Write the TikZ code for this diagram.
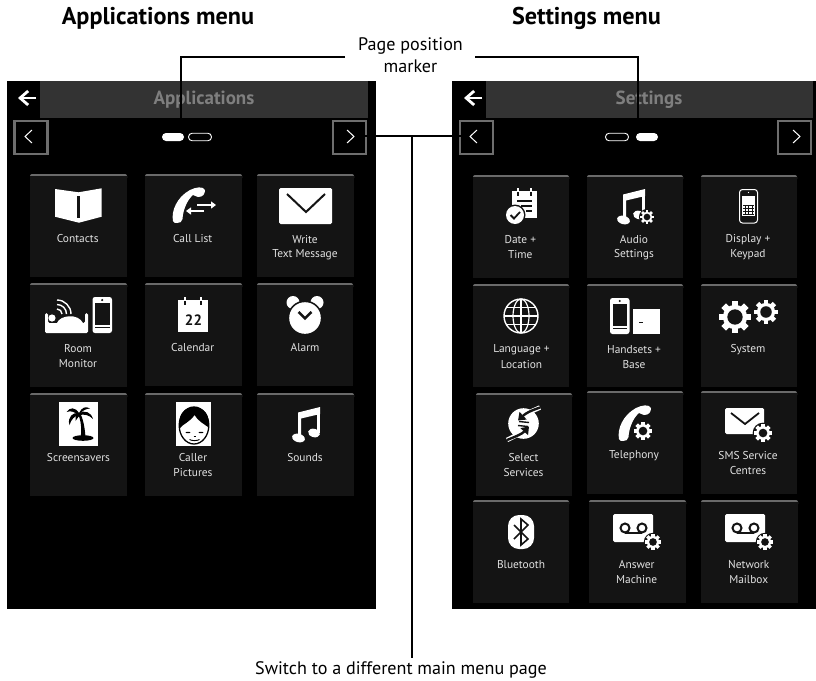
\documentclass[tikz,border=0pt]{standalone}
\usepackage{fontspec}
\setmainfont{PT Sans}
\usetikzlibrary{arrows.meta}
\definecolor{tilebg}{HTML}{141414}
\definecolor{tileedge}{HTML}{6A6A6A}
\definecolor{barbg}{HTML}{333333}
\definecolor{btn}{HTML}{6E6E6E}
\definecolor{tlt}{HTML}{7F7F7F}
\definecolor{lbl}{HTML}{E2E2E2}
\tikzset{
  x=1pt,y=-1pt,
  tiletext/.style={text=lbl,font=\fontsize{11.4}{13}\selectfont,inner sep=0pt,anchor=center,yshift=-.8pt},
  headtitle/.style={text=tlt,font=\fontsize{19}{20}\selectfont\bfseries,inner sep=0pt},
  heading/.style={text=black,font=\fontsize{24.2}{26}\selectfont\bfseries,inner sep=0pt},
  callout/.style={text=black,font=\fontsize{18.1}{22}\selectfont,inner sep=0pt,align=center},
  leader/.style={draw=black,line width=2pt},
  navbtn/.style={draw=btn,line width=2.6pt,fill=black,minimum width=33pt,minimum height=33pt,inner sep=0pt},
  chev/.style={draw=white,line width=1pt},
  ic/.style={fill=white,draw=none},
  cut/.style={fill=tilebg,draw=none},
  cutline/.style={draw=tilebg},
}
\newcommand{\tile}[4]{%
  \fill[tileedge,rounded corners=2pt] (#1,#2) rectangle (#3,{#2+6});
  \fill[tilebg] (#1,{#2+1.6}) rectangle (#3,#4);}
\newcommand{\tlab}[4]{\node[tiletext] (#1) at (#2,#3) {#4};}
\newcommand{\gearicon}[3]{%
  \fill[tilebg] (#1,#2) circle ({#3*1.15});
  \foreach \a in {0,45,...,315}{%
    \fill[white,shift={(#1,#2)},rotate=\a] (-{#3*.2},{#3*.6}) rectangle ({#3*.2},{#3});}
  \fill[white] (#1,#2) circle ({#3*.76});
  \fill[tilebg] (#1,#2) circle ({#3*.48});}
% handset: local box 34 x 36
\newcommand{\handset}[2]{%
  \fill[white,shift={(#1,#2)}] (2,34) .. controls (0,24) and (6,10) .. (19,3)
    .. controls (25,0) and (32,-1) .. (34,3) .. controls (34,7) and (32,10) .. (27,10)
    .. controls (25,10) and (24,8) .. (22,8) .. controls (17,12) and (12,22) .. (11.5,32)
    .. controls (11,35) and (9,36) .. (6,36) .. controls (4,36) and (3,36) .. (2,34) -- cycle;}
% note: local box 28 x 35
\newcommand{\noteicon}[2]{%
  \begin{scope}[shift={(#1,#2)}]
    \fill[white] (6,5.5) -- (28,0) -- (28,7) -- (9,11.5) -- (9,31) -- (6,31) -- cycle;
    \fill[white] (25,1) rectangle (28,26);
    \fill[white,rotate around={-15:(6.5,31)}] (6.5,31) ellipse (6.5 and 4.2);
    \fill[white,rotate around={-15:(22,26)}] (22,26) ellipse (6 and 4.2);
  \end{scope}}
\newcommand{\tapeicon}[2]{%
  \begin{scope}[shift={(#1,#2)}]
    \fill[white,rounded corners=1.5pt] (0,0) rectangle (40,28);
    \draw[tilebg,line width=2pt] (12,14) circle (4.5) (29,14) circle (4.5);
    \draw[tilebg,line width=2pt] (12,18.5) -- (29,18.5);
  \end{scope}}
\newcommand{\phoneicon}[2]{%
  \begin{scope}[shift={(#1,#2)}]
    \fill[white,rounded corners=2.5pt] (0,0) rectangle (19.5,36);
    \fill[tilebg] (2.5,6) rectangle (17,27.5);
    \fill[tilebg] (9.7,3) circle (1.2);
    \fill[tilebg] (2.5,30) rectangle (17,30.8);
  \end{scope}}
\begin{document}
\begin{tikzpicture}
\useasboundingbox (0,0) rectangle (816,680);
\fill[white] (0,0) rectangle (816,680);
% panels
\fill[black] (7,81) rectangle (376,609);
\fill[black] (452,81) rectangle (816,609);
\fill[barbg] (40,81) rectangle (368,118);
\fill[barbg] (486,81) rectangle (813,118);
\node[headtitle] (tApp) at (204,100) {Applications};
\node[headtitle] (tSet) at (649,100) {Settings};
\draw[white,line width=2.8pt,-{Straight Barb[length=8pt,width=14pt]}] (36,98) -- (18,98);
\draw[white,line width=2.8pt,-{Straight Barb[length=8pt,width=14pt]}] (482,98) -- (464,98);
% nav buttons
\node[navbtn] (prevL) at (31,137.5) {};
\node[navbtn] (nextL) at (349.5,137.5) {};
\node[navbtn] (prevR) at (476.5,137.5) {};
\node[navbtn] (nextR) at (794.5,137.5) {};
\draw[chev] (32,130) -- (25,136.5) -- (32,143);
\draw[chev] (347,130) -- (354,136.5) -- (347,143);
\draw[chev] (477,130) -- (470,136.5) -- (477,143);
\draw[chev] (793,130) -- (800,136.5) -- (793,143);
% pills
\node[fill=white,rounded corners=4pt,minimum width=22pt,minimum height=8pt,inner sep=0pt] (pillLa) at (173,137) {};
\node[draw=white,line width=.9pt,rounded corners=3.6pt,minimum width=23pt,minimum height=7.5pt,inner sep=0pt] (pillLb) at (200,137) {};
\node[draw=white,line width=.9pt,rounded corners=3.6pt,minimum width=23pt,minimum height=7.5pt,inner sep=0pt] (pillRa) at (617,137) {};
\node[fill=white,rounded corners=4pt,minimum width=22pt,minimum height=8pt,inner sep=0pt] (pillRb) at (647,137) {};
% tiles left
\tile{30}{174}{127}{277}\tile{145}{174}{242}{277}\tile{257}{174}{354}{277}
\tile{30}{283}{127}{387}\tile{145}{283}{242}{386}\tile{257}{283}{353}{386}
\tile{30}{393}{127}{496}\tile{145}{393}{242}{496}\tile{257}{393}{354}{496}
% tiles right
\tile{473}{175}{569}{278}\tile{587}{175}{683}{278}\tile{701}{175}{797}{278}
\tile{473}{284}{569}{387}\tile{587}{284}{683}{387}\tile{701}{284}{797}{387}
\tile{476}{393}{572}{496}\tile{587}{391}{683}{494}\tile{701}{391}{797}{494}
\tile{473}{500}{569}{603}\tile{589}{500}{686}{603}\tile{701}{500}{798}{603}
% labels left
\tlab{lContacts}{77.7}{238}{Contacts}
\tlab{lCall}{192.7}{238}{Call List}
\tlab{lWrite}{305}{239}{Write}
\tlab{lText}{305}{254}{Text Message}
\tlab{lRoom}{78}{348}{Room}
\tlab{lMonitor}{78}{363}{Monitor}
\tlab{lCalendar}{192.7}{347}{Calendar}
\tlab{lAlarm}{305}{347}{Alarm}
\tlab{lScreen}{78.5}{457}{Screensavers}
\tlab{lCaller}{193}{457}{Caller}
\tlab{lPictures}{193}{472}{Pictures}
\tlab{lSounds}{305}{457}{Sounds}
% labels right
\tlab{rDate}{520.3}{239}{Date +}
\tlab{rTime}{520.3}{254}{Time}
\tlab{rAudio}{634}{239}{Audio}
\tlab{rSettings}{634}{254}{Settings}
\tlab{rDisplay}{748}{239}{Display +}
\tlab{rKeypad}{748}{254}{Keypad}
\tlab{rLang}{521.5}{349}{Language +}
\tlab{rLoc}{521.5}{364}{Location}
\tlab{rHand}{634}{349}{Handsets +}
\tlab{rBase}{634}{364}{Base}
\tlab{rSystem}{748}{349}{System}
\tlab{rSelect}{523.5}{457}{Select}
\tlab{rServ}{523.5}{472}{Services}
\tlab{rTele}{634}{455}{Telephony}
\tlab{rSMS}{748}{455}{SMS Service}
\tlab{rCentres}{748}{470}{Centres}
\tlab{rBlue}{521}{564}{Bluetooth}
\tlab{rAnswer}{636.7}{564}{Answer}
\tlab{rMachine}{636.7}{579}{Machine}
\tlab{rNetwork}{748.7}{564}{Network}
\tlab{rMailbox}{748.7}{579}{Mailbox}
% Contacts
\fill[ic] (55,189) -- (78.5,192.3) -- (101.7,188.3) -- (101.7,216.7) -- (79,222.7) -- (55,216.7) -- cycle;
\fill[cut] (77.3,195.7) rectangle (80,218.3);
% Call list
\handset{171}{187}
\draw[white,line width=2pt,-{Triangle[length=5pt,width=7pt]}] (197,205) -- (216,205);
\draw[white,line width=2pt,-{Triangle[length=5pt,width=7pt]}] (204,211) -- (186,211);
% Write
\fill[ic,rounded corners=1.5pt] (279,188) rectangle (332,224);
\draw[cutline,line width=2pt] (287,194) -- (306,212) -- (325,194);
% Room monitor
\fill[ic,rounded corners=1.5pt] (45,313) -- (48,313) -- (48,323) -- (85,323) -- (85,313) -- (88,313) -- (88,333) -- (45,333) -- cycle;
\fill[white] (52,318) circle (3.6);
\fill[white] (57,323) .. controls (60,315) and (78,313) .. (83,323) -- cycle;
\foreach \r in {5,9.5,14}{\draw[white,line width=1.4pt] (57,{314-\r}) .. controls ({57+.55*\r},{314-\r}) and ({57+\r},{314-.55*\r}) .. ({57+\r},314);}
\phoneicon{92.5}{297}
% Calendar
\fill[ic] (178,300) rectangle (208,332);
\draw[white,line width=1.5pt] (185,297) -- (185,301) (201,297) -- (201,301);
\draw[cutline,line width=1.5pt] (185,301) -- (185,305) (201,301) -- (201,305);
\node[text=tilebg,font=\fontsize{15}{15}\selectfont\bfseries,inner sep=0pt] (calnum) at (193.5,320) {22};
% Alarm
\fill[white] (293,302.5) circle (6.5) (317,302.5) circle (6.5);
\fill[tilebg] (305,318) circle (17.5);
\fill[white] (305,318) circle (15.8);
\draw[cutline,line width=2.5pt] (298.5,312) -- (305,318.3) -- (311.5,312);
% Screensavers
\fill[ic] (59,402) rectangle (98,446);
\fill[black] (83,438) ellipse (10.5 and 2.8);
\fill[black] (78,414) .. controls (81,420) and (82,430) .. (80.5,438) -- (85.5,438) .. controls (85,428) and (83,418) .. (80,413) -- cycle;
\fill[black] (79,413) .. controls (75,407) and (70,407) .. (66.5,412) .. controls (71,410.5) and (74,411.5) .. (78,415) -- cycle;
\fill[black] (79,413) .. controls (73,412) and (67,417) .. (69.5,425) .. controls (71,420) and (74,416) .. (79,415) -- cycle;
\fill[black] (79,414) .. controls (74,412) and (76,415) .. (75.5,421) .. controls (77,419) and (78,417) .. (80,415) -- cycle;
\fill[black] (79,413) .. controls (82,407) and (86,406) .. (90,408.5) .. controls (86,408.5) and (82,411) .. (80,414) -- cycle;
\fill[black] (79,413) .. controls (85,410) and (91,412) .. (93,419) .. controls (89,415) and (85,414) .. (79,415) -- cycle;
% Caller pictures
\fill[ic] (175.5,402) rectangle (211,446);
\draw[black,line width=1.3pt] (194,425.5) ellipse (14.8 and 18.5);
\fill[black] (194,407) .. controls (184,407) and (177,416) .. (180,428) .. controls (183,424) and (190,422) .. (194.5,415) .. controls (198,421) and (204,424) .. (208,427) .. controls (211,416) and (204,407) .. (194,407) -- cycle;
\fill[black] (188,432.5) ellipse (2.4 and .7) (201,432.5) ellipse (2.4 and .7);
\draw[black,line width=.9pt] (189.5,439.5) .. controls (192,441) and (197,441) .. (199.5,439.5);
\draw[black,line width=.6pt] (193.5,436) -- (195.5,436);
% Sounds
\noteicon{292}{407}
% Date + Time
\fill[ic] (512,191) rectangle (537,218);
\draw[white,line width=1.5pt] (518,188) -- (518,192) (531,188) -- (531,192);
\draw[cutline,line width=1.5pt] (518,192) -- (518,196) (531,192) -- (531,196);
\draw[cutline,line width=1.3pt] (517,201) -- (532,201) (521,206) -- (532,206) (526,211) -- (532,211);
\fill[tilebg] (515,215) circle (10.5);
\fill[white] (515,215) circle (9);
\draw[cutline,line width=1.8pt] (510.5,215) -- (514,218.5) -- (520,212);
% Audio settings
\noteicon{617}{189}
\gearicon{647}{217}{7}
% Display + Keypad
\draw[white,line width=1pt,rounded corners=3pt] (739.5,189.5) rectangle (757.5,223);
\fill[white] (742,196) rectangle (755,216);
\foreach \g in {205,208,211,214}{\draw[tilebg,line width=.5pt] (743,\g) -- (754,\g);}
\foreach \g in {745,748.5,752}{\draw[tilebg,line width=.5pt] (\g,205) -- (\g,214);}
\fill[white] (748.5,192.5) circle (.6);
% Language
\draw[white,line width=1.4pt] (521,316) circle (17);
\draw[white,line width=1.2pt] (521,316) ellipse (8 and 17);
\draw[white,line width=1.2pt] (521,299) -- (521,333) (504,316) -- (538,316);
\draw[white,line width=1.2pt] (506,307.5) -- (536,307.5) (506,324.5) -- (536,324.5);
% Handsets + Base
\phoneicon{610}{298}
\fill[ic] (633,309) rectangle (660,334);
\fill[cut] (638.5,321.5) rectangle (642.5,323);
% System
\gearicon{735}{317}{16}
\gearicon{766}{312}{12}
% Select services
\fill[white] (523.5,423.5) circle (15.3);
\draw[white,line width=4.6pt] (540,407.5) -- (530,412);
\draw[white,line width=4.6pt] (507,440) -- (517,435);
\draw[tilebg,line width=2.4pt,-{Triangle[length=7pt,width=10pt]}] (540,407.5) .. controls (530,411) and (526,413) .. (518,420.5);
\draw[tilebg,line width=2.4pt,-{Triangle[length=7pt,width=10pt]}] (507,440) .. controls (517,436) and (522,434) .. (529,426.5);
\draw[tilebg,line width=1.4pt] (519,421.5) -- (529,422.5) (518,425.5) -- (528,426.5);
% Telephony
\handset{617}{405}
\gearicon{643}{431}{9}
% SMS
\fill[ic,rounded corners=1.5pt] (725,408) rectangle (764,434);
\draw[cutline,line width=1.8pt] (731,413) -- (745,424) -- (759,413);
\gearicon{763}{433}{9}
% Bluetooth
\fill[ic,rounded corners=11pt] (508,515) rectangle (534,549);
\draw[cutline,line width=1.6pt] (514,525) -- (528,539) -- (521,545) -- (521,519) -- (528,525) -- (514,539);
% Answer machine, network mailbox
\tapeicon{613}{514}
\gearicon{653}{542}{8}
\tapeicon{725}{514}
\gearicon{765}{542}{8}
% callouts
\node[heading] (hApp) at (158,18) {Applications menu};
\node[heading] (hSet) at (586.5,18) {Settings menu};
\node[callout] (page) at (410.5,55) {Page position\\marker};
\node[callout] (switch) at (401,670) {Switch to a different main menu page};
\coordinate (cornerA) at (181,57);
\coordinate (cornerB) at (637.5,57);
\coordinate (startA) at (345,57);
\coordinate (startB) at (475,57);
\coordinate (endA) at (181,122);
\coordinate (endB) at (637.5,122);
\coordinate (nextEnd) at (358,136);
\coordinate (prevEnd) at (465,136);
\coordinate (junction) at (412,136);
\coordinate (switchTop) at (412,658);
\draw[leader] (startA) -- (cornerA) -- (endA);
\draw[leader] (startB) -- (cornerB) -- (endB);
\draw[leader] (nextEnd) -- (prevEnd);
\draw[leader] (junction) -- (switchTop);
\end{tikzpicture}
\end{document}
